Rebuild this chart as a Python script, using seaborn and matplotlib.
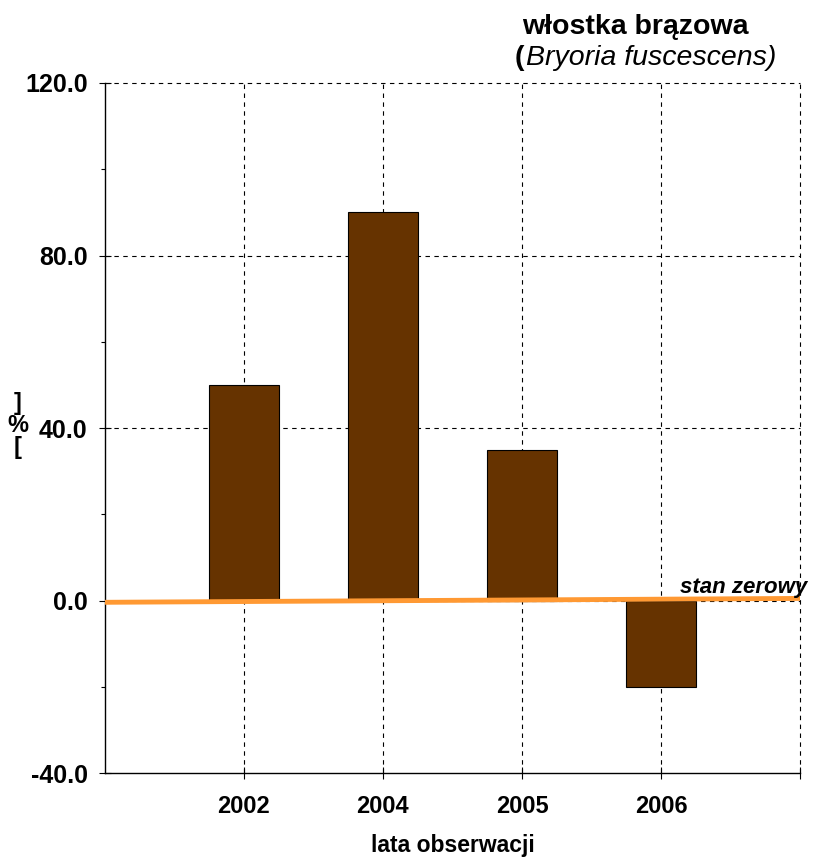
import matplotlib
matplotlib.use("Agg")
import matplotlib.pyplot as plt
from matplotlib.ticker import MultipleLocator
import seaborn as sns
import pandas as pd

# Data
years = ["2002", "2004", "2005", "2006"]
change_pct = [50.0, 90.0, 35.0, -20.0]
baseline_x = [-1, 4]
baseline_y = [-0.4, 0.5]
y_ticks = [-40.0, 0.0, 40.0, 80.0, 120.0]

sns.set_theme(style="white")
plt.rcParams["font.family"] = ["Liberation Sans", "DejaVu Sans"]
plt.rcParams["text.color"] = "black"
plt.rcParams["axes.labelcolor"] = "black"
plt.rcParams["xtick.color"] = "black"
plt.rcParams["ytick.color"] = "black"

df = pd.DataFrame({"rok": years, "zmiana": change_pct})

fig = plt.figure(figsize=(8.13, 8.59), dpi=100)
ax = fig.add_axes([0.129, 0.100, 0.855, 0.8034])

sns.barplot(data=df, x="rok", y="zmiana", color="#663300", width=0.5,
            edgecolor="black", linewidth=0.8, saturation=1, ax=ax, zorder=3)

# zero reference line
sns.lineplot(x=baseline_x, y=baseline_y, color="#FF9933", linewidth=3.5,
             ax=ax, zorder=4)
ax.text(4.05, 0.6, "stan zerowy", ha="right", va="bottom", fontsize=16,
        fontweight="bold", fontstyle="italic", zorder=5, color="black")

ax.set_xlim(-1, 4)
ax.set_ylim(-40, 120)
ax.set_yticks(y_ticks)
ax.set_yticklabels([f"{v:.1f}" for v in y_ticks], fontsize=18, fontweight="bold")
ax.yaxis.set_minor_locator(MultipleLocator(20))
ax.set_xticks([0, 1, 2, 3, 4])
ax.set_xticklabels(years + [""], fontsize=17, fontweight="bold")

# dashed grid
dash = (0, (4, 4))
for v in y_ticks[1:]:
    ax.axhline(v, color="black", linestyle=dash, linewidth=0.8, zorder=1,
               clip_on=False)
for v in [0, 1, 2, 3, 4]:
    ax.axvline(v, color="black", linestyle=dash, linewidth=0.8, zorder=1,
               clip_on=False)

for side in ["top", "right"]:
    ax.spines[side].set_visible(False)
for side in ["left", "bottom"]:
    ax.spines[side].set_color("black")
    ax.spines[side].set_linewidth(1.0)

ax.tick_params(axis="y", which="major", direction="inout", length=9, width=0.8,
               color="black", pad=8, left=True)
ax.tick_params(axis="y", which="minor", direction="out", length=3, width=0.8,
               color="black", left=True)
ax.tick_params(axis="x", which="major", direction="inout", length=9, width=0.8,
               color="black", pad=11, bottom=True)

ax.set_xlabel("lata obserwacji", fontsize=16.5, fontweight="bold", labelpad=12)
ax.set_ylabel("")

fig.text(0.022, 0.505, "]\n%\n[", ha="center", va="center", fontsize=17,
         fontweight="bold", linespacing=0.95)

fig.text(0.781, 0.9686, "włostka brązowa", ha="center", va="center",
         fontsize=20.5, fontweight="bold")
fig.text(0.633, 0.9325, "(", ha="left", va="center", fontsize=20.5,
         fontweight="bold")
fig.text(0.647, 0.9325, "Bryoria fuscescens)", ha="left", va="center",
         fontsize=20.5, fontstyle="italic")

fig.savefig("out.png", dpi=100, facecolor="white")
